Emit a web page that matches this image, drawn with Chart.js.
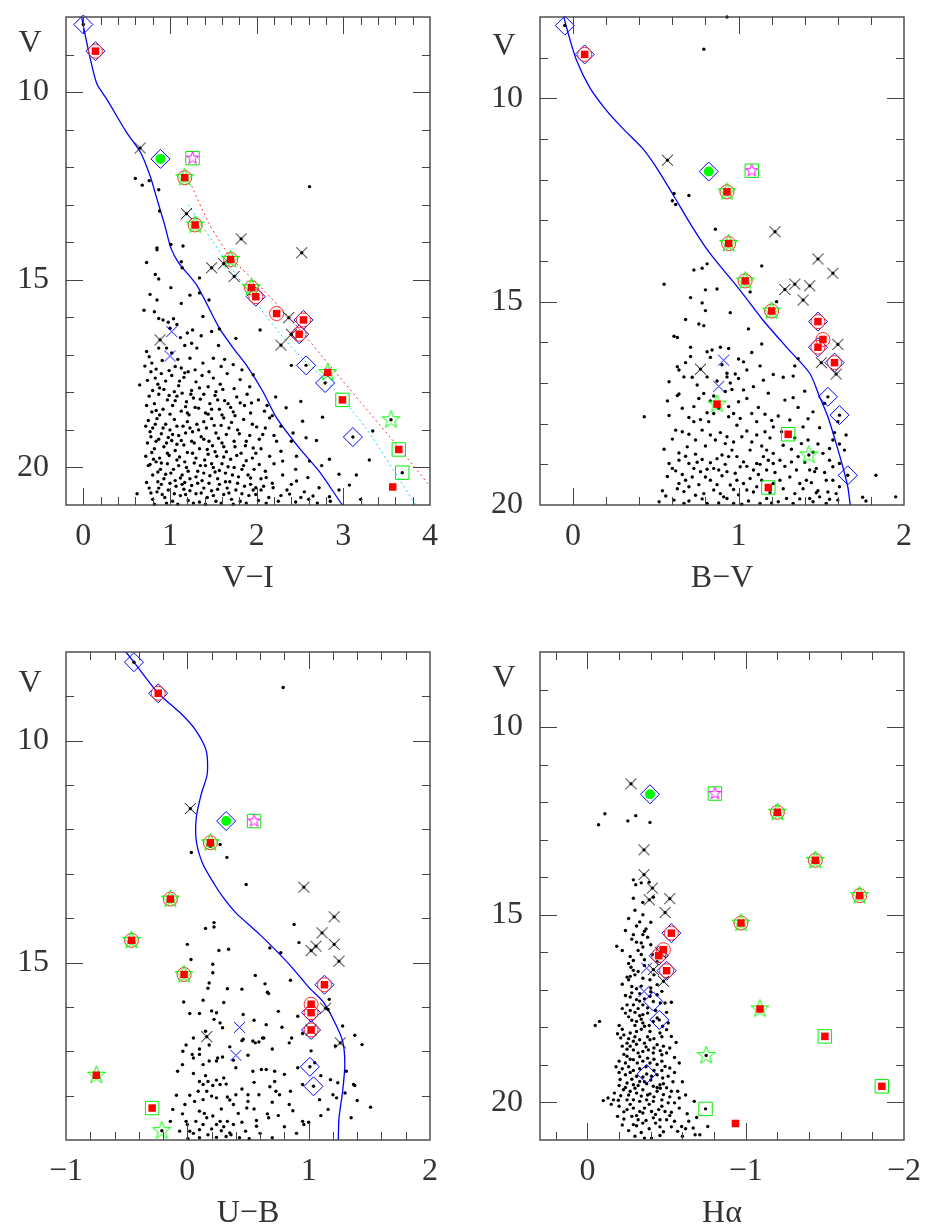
<!DOCTYPE html>
<html>
<head>
<meta charset="utf-8">
<script src="https://cdn.jsdelivr.net/npm/chart.js@4.4.1/dist/chart.umd.min.js"></script>
<style>
html, body { margin: 0; padding: 0; background: #fff; }
#wrap { position: relative; width: 938px; height: 1230px; overflow: hidden; }
canvas { position: absolute; }
</style>
</head>
<body>
<div id="wrap">
  <canvas id="cVI" width="469" height="640" style="left:0;top:-40px"></canvas>
  <canvas id="cBV" width="469" height="640" style="left:469px;top:-40px"></canvas>
  <canvas id="cUB" width="469" height="630" style="left:0;top:600px"></canvas>
  <canvas id="cHA" width="469" height="630" style="left:469px;top:600px"></canvas>
</div>
<script>
'use strict'

// ---------- V vs V-I ----------
const viIsochrone = [[-0.02,8.0],[0.04,8.69],[0.10,9.31],[0.16,9.80],[0.27,10.19],[0.50,11.08],[0.66,11.61],[0.77,12.23],[0.85,12.85],[0.94,13.55],[1.01,14.15],[1.1,14.55],[1.31,15.15],[1.57,16.29],[1.73,16.82],[1.88,17.27],[2.07,17.97],[2.23,18.68],[2.49,19.48],[2.72,20.10],[2.97,20.94],[2.99,21.0]];
const viRedDotted = [[1.25,12.5],[1.45,13.5],[1.7,14.4],[2.05,15.2],[2.45,16.2],[2.85,17.3],[3.25,18.4],[3.65,19.5],[4.0,20.5]];
const viCyanDotted = [[1.21,13.0],[1.5,14.0],[1.96,15.5],[2.38,16.74],[2.88,17.89],[3.26,18.95],[3.82,20.94],[3.84,21.0]];
const viDiamonds = [[0.0,8.2],[0.14,8.91],[0.89,11.78],[1.99,15.45],[2.54,16.07],[2.49,16.45],[2.57,17.28],[2.79,17.75],[3.11,19.19]];
const viRedSquares = [[0.14,8.91],[1.17,12.28],[1.29,13.54],[1.70,14.46],[1.94,15.21],[1.99,15.45],[2.23,15.90],[2.54,16.07],[2.49,16.45],[2.82,17.47],[2.99,18.20],[3.64,19.52],[3.57,20.52]];
const viRedCircles = [[0.14,8.91],[1.17,12.28],[1.29,13.54],[1.70,14.46],[1.94,15.21],[1.99,15.45],[2.23,15.90],[2.54,16.07],[2.49,16.45]];
const viGreenStars = [[1.17,12.28],[1.29,13.54],[1.70,14.46],[1.94,15.21],[2.82,17.47],[3.55,18.73]];
const viGreenSquares = [[1.26,11.76],[2.99,18.20],[3.64,19.52],[3.68,20.14]];
const viGreenDot = [[0.89,11.78]];
const viMagentaStar = [[1.26,11.76]];
const viCrosses = [[0.655,11.49],[1.19,13.24],[1.82,13.91],[2.52,14.28],[1.48,14.68],[1.62,14.57],[1.74,14.91],[2.37,16.01],[2.40,16.45],[2.28,16.74],[0.885,16.60]];
const viBlueCrosses = [[1.02,16.38],[1.0,17.03]];
const viDots = [[0.0,8.2],[2.57,17.28],[2.79,17.75],[3.11,19.19],[3.55,18.73],[3.68,20.14],
  [0.60,12.30],[0.68,12.48],[0.76,12.36],[0.87,12.60],[2.61,12.52],[0.88,13.17],[0.85,14.15],[1.01,14.06],[1.15,14.10],
  [0.73,14.54],[0.85,14.2],[0.83,14.86],[0.87,14.98],[1.01,15.21],[1.13,14.52],[1.14,14.68],[1.34,14.95],[1.45,15.54],[1.34,15.35],[1.23,15.41],[1.13,15.63],[0.77,15.39],[0.85,15.54],[0.70,15.81],[0.82,15.85],[0.87,16.03],[0.92,16.07],[0.98,16.13],[1.04,16.04],[1.0,16.29],[1.08,16.19],[1.12,16.54],[1.20,16.42],[1.26,16.34],[1.25,16.69],[1.17,16.75],[1.38,15.98],[1.36,16.49],[1.48,16.38],[1.56,16.75],[1.57,16.31],[1.76,16.56],[0.73,16.91],[0.79,17.22],[0.87,16.82],[0.96,16.82],[1.06,17.31],[1.13,17.35],[1.23,17.09],[1.31,16.82],[1.38,17.22],[1.50,17.09],[1.59,17.31],[1.73,17.26],[0.65,17.8],[2.04,16.34],[2.40,17.28],[2.51,18.24],[2.76,18.66],[2.53,18.77],[2.57,19.21],[2.69,19.28],[2.84,19.78],[2.95,20.18],[3.07,20.47],[3.3,19.8],[3.34,19.03],[1.94,18.28],[1.96,17.53],[2.09,18.5],[2.15,18.68],[2.34,18.41],[2.42,19.08],[2.40,19.3],[2.28,19.57],[2.46,19.7],[2.30,19.83],[2.61,19.83],[2.59,20.27],[2.46,20.36],[2.38,20.71],[2.51,20.8],[2.72,20.54],[2.65,20.76],[2.84,20.78],[2.19,20.54],[2.11,20.27],[2.03,19.92],[1.99,20.54],[2.23,19.3],[2.07,19.12],[1.96,19.48],
  [0.78,17.45],[0.83,17.62],[0.9,17.5],[0.95,17.7],[1.02,17.55],[1.1,17.82],[1.16,17.6],[1.21,17.45],[1.3,17.72],[1.37,17.55],[1.44,17.85],[1.5,17.62],[1.58,17.78],[1.66,17.5],[1.74,17.9],[1.81,17.66],[0.8,17.95],[0.88,17.88],[1.05,17.98],[1.25,17.95],
  [0.76,18.1],[0.82,18.3],[0.87,18.05],[0.92,18.45],[0.97,18.2],[1.03,18.35],[1.08,18.1],[1.13,18.5],[1.19,18.25],[1.24,18.05],[1.29,18.4],[1.35,18.18],[1.41,18.55],[1.46,18.3],[1.52,18.08],[1.57,18.45],[1.63,18.22],[1.7,18.4],[1.77,18.12],[1.86,18.35],[1.93,18.55],[2.02,18.2],[0.79,18.52],[1.0,18.58],[1.22,18.6],[1.6,18.6],
  [0.75,18.75],[0.8,18.95],[0.85,18.7],[0.9,19.1],[0.95,18.85],[1.0,19.0],[1.05,18.72],[1.1,19.15],[1.15,18.9],[1.2,18.78],[1.26,19.05],[1.31,18.85],[1.36,19.18],[1.42,18.95],[1.48,18.7],[1.53,19.08],[1.59,18.88],[1.65,19.12],[1.71,18.8],[1.78,19.0],[1.85,18.72],[1.92,19.15],[2.0,18.92],[0.78,19.18],[0.98,19.2],[1.62,18.68],
  [0.74,19.35],[0.79,19.6],[0.84,19.3],[0.88,19.75],[0.93,19.45],[0.97,19.62],[1.02,19.28],[1.06,19.55],[1.11,19.72],[1.16,19.4],[1.2,19.6],[1.25,19.3],[1.3,19.75],[1.34,19.5],[1.39,19.25],[1.44,19.65],[1.49,19.42],[1.54,19.7],[1.6,19.35],[1.65,19.58],[1.7,19.78],[1.75,19.45],[1.82,19.62],[1.88,19.3],[1.95,19.75],[2.05,19.5],[2.15,19.7],[0.82,19.5],[1.08,19.38],[1.4,19.8],
  [0.75,19.95],[0.8,20.2],[0.84,19.85],[0.89,20.05],[0.93,20.3],[0.97,19.9],[1.01,20.15],[1.06,20.35],[1.1,19.95],[1.14,20.2],[1.19,20.0],[1.23,20.3],[1.28,19.88],[1.32,20.1],[1.37,20.35],[1.41,19.95],[1.46,20.22],[1.5,20.0],[1.55,20.3],[1.6,19.9],[1.64,20.15],[1.69,20.38],[1.74,20.0],[1.79,20.25],[1.85,19.95],[1.9,20.2],[1.97,20.05],[2.05,20.3],[0.86,20.38],[1.17,20.4],[1.52,20.12],
  [0.76,20.55],[0.8,20.85],[0.85,20.65],[0.9,20.45],[0.94,20.8],[0.98,20.6],[1.03,20.9],[1.07,20.5],[1.12,20.75],[1.16,20.58],[1.21,20.88],[1.25,20.48],[1.3,20.7],[1.34,20.92],[1.39,20.55],[1.43,20.8],[1.48,20.62],[1.53,20.9],[1.57,20.45],[1.62,20.72],[1.66,20.55],[1.71,20.85],[1.76,20.6],[1.81,20.9],[1.86,20.5],[1.91,20.75],[1.96,20.6],[2.02,20.88],[2.08,20.5],[2.14,20.8],[2.25,20.9],[2.35,20.6],[2.45,20.92],[2.6,20.85],[2.7,20.95],[2.85,20.9],[0.62,20.7],
  [0.76,17.05],[0.84,17.38],[0.91,17.15],[0.99,17.42],[1.09,17.12],[1.17,17.48],[1.29,17.4],[1.45,17.45],[1.63,17.12],[1.83,17.4],[0.71,17.3],[1.02,16.95],
  [0.74,17.68],[0.86,17.78],[0.93,17.92],[0.99,18.08],[1.06,18.22],[1.14,18.02],[1.18,18.38],[1.27,18.15],[1.33,18.42],[1.39,18.05],[1.48,18.45],[1.55,18.2],[1.61,17.92],[1.67,18.3],[1.73,18.52],[1.81,18.28],[1.89,18.05],[2.12,18.35],[2.22,18.12],[0.73,18.35],[0.84,18.48],[1.11,17.7],[1.34,17.88],[1.53,17.98],[1.92,17.85],
  [0.72,18.9],[0.77,19.05],[0.83,18.85],[0.87,19.25],[0.92,18.95],[0.96,19.35],[1.03,19.12],[1.08,18.9],[1.13,19.28],[1.18,19.08],[1.23,18.95],[1.28,19.35],[1.33,19.0],[1.39,18.78],[1.45,19.3],[1.51,18.88],[1.56,19.22],[1.62,19.45],[1.68,18.95],[1.74,19.3],[1.8,19.1],[1.87,19.42],[1.95,18.85],[2.03,19.25],[2.1,18.95],[2.2,19.15],[2.28,18.9],[0.88,18.6],[1.2,18.55],[1.44,18.58],[1.75,18.62],[2.18,18.62],
  [0.72,19.7],[0.77,19.92],[0.81,19.78],[0.86,20.12],[0.9,19.88],[0.95,20.18],[0.99,19.68],[1.04,20.05],[1.08,19.8],[1.12,20.28],[1.17,19.85],[1.21,20.1],[1.26,19.62],[1.3,20.25],[1.35,19.95],[1.39,20.15],[1.43,19.52],[1.48,19.9],[1.52,19.58],[1.57,20.08],[1.62,19.72],[1.67,19.98],[1.72,20.2],[1.77,19.68],[1.83,20.05],[1.88,19.82],[1.93,20.28],[1.99,19.62],[2.1,20.1],[2.2,19.9],[2.3,20.2],[2.45,20.05],[2.75,19.95],[3.15,20.2],
  [0.73,20.4],[0.78,20.68],[0.82,20.98],[0.87,20.55],[0.91,20.72],[0.96,20.95],[1.0,20.42],[1.05,20.7],[1.09,20.98],[1.14,20.45],[1.18,20.72],[1.23,20.62],[1.27,20.95],[1.32,20.42],[1.36,20.68],[1.41,20.98],[1.45,20.42],[1.5,20.75],[1.55,20.58],[1.59,20.95],[1.64,20.38],[1.68,20.68],[1.73,20.98],[1.78,20.42],[1.83,20.7],[1.88,20.95],[1.93,20.45],[1.99,20.72],[2.05,20.6],[2.11,20.95],[2.18,20.42],[2.28,20.75],[2.4,20.45],[2.55,20.65],[2.95,20.6],[3.2,20.85]];

// ---------- V vs B-V ----------
const bvIsochrone = [[-0.056,8.0],[-0.03,8.4],[0.02,9.06],[0.10,9.73],[0.20,10.29],[0.30,10.74],[0.42,11.23],[0.50,11.68],[0.60,12.34],[0.72,13.16],[0.825,13.8],[1.007,14.71],[1.147,15.45],[1.288,16.11],[1.43,16.76],[1.49,17.34],[1.54,17.83],[1.59,18.49],[1.63,19.06],[1.66,19.55],[1.675,20.0]];
const bvDiamonds = [[-0.05,8.21],[0.07,8.92],[0.82,11.8],[1.48,15.49],[1.48,16.12],[1.58,16.5],[1.54,17.34],[1.61,17.79],[1.66,19.27]];
const bvRedSquares = [[0.07,8.92],[0.93,12.3],[0.94,13.57],[1.04,14.49],[1.20,15.23],[1.48,15.49],[1.51,15.93],[1.48,16.12],[1.58,16.5],[0.87,17.52],[1.30,18.26],[1.18,19.57]];
const bvRedCircles = [[0.07,8.92],[0.93,12.3],[0.94,13.57],[1.04,14.49],[1.20,15.23],[1.48,15.49],[1.51,15.93],[1.48,16.12],[1.58,16.5]];
const bvGreenStars = [[0.93,12.3],[0.94,13.57],[1.04,14.49],[1.20,15.23],[0.87,17.52],[1.425,18.77]];
const bvGreenSquares = [[1.08,11.78],[1.30,18.26],[1.18,19.57]];
const bvGreenDot = [[0.82,11.8]];
const bvMagentaStar = [[1.08,11.78]];
const bvCrosses = [[0.57,11.52],[1.22,13.28],[1.48,13.95],[1.57,14.30],[1.28,14.70],[1.34,14.57],[1.43,14.61],[1.39,14.96],[1.60,16.05],[1.50,16.5],[1.59,16.78],[0.77,16.66]];
const bvBlueCrosses = [[0.91,16.44],[0.88,17.08]];
const bvDots = [[-0.05,8.21],[0.93,8.0],[0.79,8.79],[0.61,12.34],[0.60,12.52],[0.62,12.61],[0.70,12.39],[0.86,13.22],[1.54,17.34],[1.61,17.79],[1.66,19.27],[1.425,18.77],
  [0.81,14.07],[0.78,14.18],[0.73,14.22],[0.55,14.57],[1.14,14.12],[0.80,14.71],[0.87,14.69],[0.71,14.9],[0.78,15.03],[0.80,15.22],[0.95,15.27],[0.68,15.44],[0.76,15.55],[0.79,15.59],[1.06,15.67],[0.61,15.85],[0.63,15.88],[0.71,16.12],[1.14,16.04],[1.23,15.0],[1.07,14.76],
  [0.81,16.23],[0.84,16.19],[0.89,16.12],[0.94,16.15],[0.71,16.35],[0.83,16.37],[0.63,16.6],[0.64,16.68],[0.58,16.97],[0.67,16.85],[0.72,16.86],[0.75,17.05],[0.64,17.27],[0.63,17.31],[0.57,17.44],[1.0,16.41],[1.03,16.48],[1.05,16.68],[0.98,16.78],[1.0,16.89],[0.93,16.76],[0.93,16.85],[0.87,16.95],[0.81,16.85],[1.13,16.58],[1.21,16.79],[1.27,16.86],[1.33,16.83],[1.34,16.58],[1.36,16.4],[1.15,16.93],[1.09,17.09],[1.03,17.17],[0.96,17.16],[0.92,17.21],[1.0,17.46],[1.05,17.38],[0.79,17.26],[0.76,17.38],[0.83,17.44],[0.73,17.58],[0.81,17.73],[0.77,17.9],[0.73,17.95],[0.82,17.95],[0.85,17.75],[0.94,17.58],[0.97,17.75],[1.01,17.87],[0.99,18.04],[0.94,17.83],[1.08,17.75],[1.11,17.95],[1.16,17.77],[1.24,17.81],[1.28,17.42],[1.33,17.36],[1.31,17.91],[1.49,18.1],[1.45,17.71],[1.39,18.08],[1.21,18.08],[1.16,18.2],[1.11,18.28],[1.08,18.45],[1.02,18.32],[0.93,18.32],[0.92,18.49],[0.86,18.4],[0.83,18.28],[0.78,18.16],[0.70,18.26],[0.66,18.2],[0.62,18.16],
  [0.55,18.63],[0.64,18.72],[0.69,18.57],[0.74,18.75],[0.78,18.88],[0.83,18.96],[0.87,18.86],[0.90,18.77],[0.94,18.81],[0.96,18.65],[0.99,18.81],[1.03,18.94],[1.07,18.65],[1.11,18.98],[1.15,18.81],[1.21,18.98],[1.27,18.53],[1.32,18.63],[1.38,18.49],[1.43,19.14],[1.47,19.1],[1.51,18.73],[1.55,18.61],[1.57,18.4],[1.61,18.5],[1.65,18.28],[1.64,18.65],[1.55,18.9],[1.57,19.06],[1.61,18.98],[1.83,19.27],[1.95,19.8],[1.77,19.9],[1.75,19.81],[1.60,19.88],[1.55,19.86],[1.49,19.8],[1.45,19.92],[1.61,19.55],[1.57,19.39],[1.53,19.39],[1.46,19.18],[1.41,19.39],[1.37,19.47],[1.35,19.14],[1.31,19.31],[1.25,19.39],[1.21,19.47],[1.24,19.92],[1.29,19.84],[1.14,19.39],[1.11,19.55],[1.07,19.35],[1.05,19.63],[1.03,19.47],[0.99,19.39],[0.95,19.51],[0.93,19.84],[0.91,19.8],[0.89,19.72],[0.85,19.63],[0.83,19.39],[0.80,19.31],[0.77,19.18],[0.72,19.31],[0.68,19.39],[0.67,19.67],[0.64,19.47],[0.61,19.88],[0.52,19.92],[0.54,19.65],[0.67,19.96],[0.74,19.76],[0.81,19.96],[0.97,19.96],[1.02,19.98],[1.13,19.96],[1.17,19.84],[1.33,19.96],[1.43,19.84],[1.53,19.96],[1.59,19.72],[1.54,19.68],[1.25,18.9],[1.21,18.73],[1.17,18.65],[1.32,18.94],[1.36,18.81],[1.09,19.14],[1.17,19.14],[1.01,19.06],[0.93,19.18],[0.88,19.14],[0.85,19.1],[0.70,18.98],[0.73,19.1],[0.68,18.8],[0.64,18.9],[0.62,19.16],[0.58,18.98],[0.43,17.83],
  [0.58,17.8],[0.66,17.62],[0.7,17.85],[0.88,17.62],[1.12,17.6],[1.2,17.92],[1.36,17.6],[1.42,17.88],[1.52,17.5],[1.6,17.95],[0.6,18.38],[0.74,18.4],[0.8,18.55],[0.89,18.22],[0.97,18.45],[1.05,18.18],[1.14,18.55],[1.19,18.35],[1.26,18.2],[1.34,18.35],[1.42,18.4],[1.48,18.5],[1.58,18.22],[0.57,19.3],[0.63,19.6],[0.7,19.55],[0.76,19.5],[0.79,19.72],[0.87,19.5],[0.9,19.28],[0.97,19.62],[1.0,19.75],[1.09,19.68],[1.12,19.25],[1.19,19.7],[1.22,19.2],[1.27,19.6],[1.34,19.72],[1.39,19.6],[1.44,19.45],[1.48,19.65],[1.52,19.2],[0.6,19.1],[0.66,19.25],[0.75,18.95],[0.81,19.12],[0.92,19.0],[0.98,19.22],[1.05,19.05],[1.13,19.0],[1.18,18.9],[1.28,19.05],[1.4,18.95],[1.45,18.7],[0.56,19.78],[0.7,19.9],[0.78,19.85],[0.88,19.95],[1.06,19.9],[1.2,19.95],[1.37,19.85],[1.47,19.7],[0.95,17.0],[0.85,17.32],[1.18,17.25],[1.4,17.2],[0.68,16.5],[0.9,16.55],[1.08,16.25]];

// ---------- V vs U-B ----------
const ubIsochrone = [[-0.506,8.0],[-0.44,8.23],[-0.24,8.93],[-0.063,9.36],[0.068,9.76],[0.156,10.23],[0.164,10.75],[0.115,11.2],[0.074,11.73],[0.074,12.26],[0.128,12.78],[0.224,13.24],[0.30,13.55],[0.40,13.88],[0.594,14.36],[0.84,15.04],[1.005,15.57],[1.115,15.87],[1.197,16.25],[1.28,16.77],[1.298,17.3],[1.28,17.9],[1.25,18.5],[1.244,19.0]];
const ubDiamonds = [[-0.44,8.23],[-0.24,8.93],[0.32,11.81],[1.13,15.5],[1.02,16.13],[1.02,16.52],[1.01,17.35],[1.04,17.79]];
const ubRedSquares = [[-0.24,8.93],[0.19,12.30],[-0.14,13.57],[-0.46,14.5],[-0.027,15.27],[1.13,15.5],[1.02,15.94],[1.02,16.13],[1.02,16.52],[-0.75,17.54],[-0.29,18.28]];
const ubRedCircles = [[-0.24,8.93],[0.19,12.30],[-0.14,13.57],[-0.46,14.5],[-0.027,15.27],[1.13,15.5],[1.02,15.94],[1.02,16.13],[1.02,16.52]];
const ubGreenStars = [[0.19,12.30],[-0.14,13.57],[-0.46,14.5],[-0.027,15.27],[-0.75,17.54],[-0.21,18.79]];
const ubGreenSquares = [[0.55,11.81],[-0.29,18.28]];
const ubGreenDot = [[0.32,11.81]];
const ubMagentaStar = [[0.55,11.81]];
const ubCrosses = [[0.025,11.53],[0.96,13.30],[1.21,13.97],[1.11,14.33],[1.06,14.63],[1.02,14.73],[1.21,14.59],[1.25,14.97],[1.14,16.03],[1.02,16.52],[0.16,16.67],[1.26,16.81]];
const ubBlueCrosses = [[0.43,16.46],[0.40,17.09]];
const ubDots = [[-0.44,8.23],[1.01,17.35],[1.04,17.79],[-0.21,18.79],[0.79,8.80],[0.19,12.38],[0.27,12.34],[0.033,12.52],[0.326,12.63],[0.485,13.24],
  [0.88,14.14],[0.92,14.55],[0.77,14.78],[0.68,14.67],[0.15,14.23],[0.22,14.1],[0.22,14.2],[0.0,14.59],[0.03,14.93],[0.26,14.73],[0.34,14.7],[0.21,15.04],[0.21,15.23],[0.18,15.46],[0.17,15.58],[0.33,15.59],[-0.03,15.89],[0.13,15.85],[0.02,16.15],[0.10,16.15],[0.20,16.09],[0.24,16.13],[0.27,16.36],[0.29,16.47],[0.22,16.28],[0.46,16.17],[0.56,15.29],[0.64,15.48],[0.66,15.67],[0.67,15.7],[0.85,15.4],[0.78,16.46],[0.65,16.4],[0.59,16.79],[0.62,16.7],[0.56,16.81],[0.46,16.73],[0.05,16.7],[-0.01,16.86],[0.18,16.86],[-0.037,17.0],[0.04,17.07],[0.10,17.07],[0.05,17.15],[0.13,17.3],[0.18,17.22],[0.24,17.22],[0.29,17.13],[0.25,17.15],[-0.04,17.3],[-0.08,17.45],
  [0.10,17.68],[0.13,17.75],[0.17,17.68],[0.21,17.77],[0.24,17.65],[0.27,17.75],[0.32,17.74],[0.09,17.9],[0.16,17.9],[0.02,17.99],[-0.09,17.99],[0.06,18.13],[0.13,18.09],[0.20,18.01],[0.24,18.05],[0.33,18.03],[0.40,17.98],[0.50,17.98],[0.50,18.13],[0.59,17.98],[0.61,17.41],[0.65,17.41],[0.72,17.45],[0.80,17.52],[0.72,17.68],[0.73,17.9],[0.76,17.98],[0.40,17.37],[0.54,17.45],[0.50,17.09],[0.45,16.76],[0.54,16.77],[0.63,16.7],[0.84,16.81],[0.86,16.7],[0.91,16.21],[1.17,15.83],[1.16,16.06],[1.28,16.43],[1.38,16.64],[1.44,16.85],[1.22,16.88],[1.02,16.99],[1.05,17.26],[0.91,17.37],[1.09,18.09],[1.16,18.31],[1.18,17.64],[1.24,17.71],[1.31,17.45],[1.2,17.98],[1.30,17.94],[1.38,17.77],[1.40,18.11],[1.51,18.26],
  [0.87,18.34],[0.95,18.58],[0.96,18.65],[0.84,18.2],[0.66,18.41],[0.67,18.5],[0.49,18.28],[0.57,18.56],[0.57,18.69],[0.48,18.8],[0.43,18.95],[0.38,18.2],[0.38,18.65],[0.33,18.58],[0.35,18.84],[0.32,18.92],[0.36,18.88],[0.28,18.79],[0.24,18.65],[0.27,18.58],[0.21,18.46],[0.16,18.5],[0.13,18.65],[0.10,18.77],[0.07,18.58],[-0.01,18.58],[-0.04,18.41],[-0.12,18.31],[-0.063,18.8],[0.02,18.8],[0.10,18.95],[0.17,18.88],[0.24,18.94],[0.005,18.97],[0.51,18.97],[-0.14,18.58],[1.37,17.75],[1.23,18.05],
  [0.05,17.5],[0.15,17.55],[0.3,17.6],[0.45,17.85],[0.55,17.7],[0.68,17.8],[0.85,17.9],[0.95,17.75],[1.1,17.55],[-0.02,18.2],[0.1,18.35],[0.28,18.3],[0.42,18.4],[0.55,18.3],[0.75,18.45],[0.8,18.7],[0.9,18.85],[1.0,18.6],[1.1,18.45],[1.35,18.5],[0.05,18.85],[0.2,18.75],[0.3,18.7],[0.45,18.6],[0.6,18.85],[0.7,18.95],[0.0,18.65],[0.14,18.4],[0.35,18.1],[0.7,18.15],[0.15,16.55],[0.35,16.9],[0.7,16.95],[0.95,16.6],[0.3,15.9],[0.45,15.6],[0.55,16.3],[0.75,16.1],[0.1,16.95],[0.38,17.2]];

// ---------- V vs H-alpha ----------
const haDiamonds = [[-0.395,11.79],[-0.53,15.49],[-0.45,16.09],[-0.50,16.49],[-0.416,17.31],[-0.454,17.8],[-0.374,19.24]];
const haRedSquares = [[-1.20,12.27],[-1.44,13.55],[-1.72,14.49],[-0.97,15.22],[-0.53,15.49],[-0.48,15.93],[-0.45,16.09],[-0.50,16.49],[-1.09,17.51],[-1.50,18.24],[-1.86,19.57],[-0.935,20.56]];
const haRedCircles = [[-1.20,12.27],[-1.44,13.55],[-1.72,14.49],[-0.97,15.22],[-0.53,15.49],[-0.48,15.93],[-0.45,16.09],[-0.50,16.49]];
const haGreenStars = [[-1.20,12.27],[-1.44,13.55],[-1.72,14.49],[-0.97,15.22],[-1.09,17.51],[-0.75,18.75]];
const haGreenSquares = [[-0.805,11.77],[-1.50,18.24],[-1.86,19.57],[-0.746,20.17]];
const haGreenDot = [[-0.395,11.79]];
const haMagentaStar = [[-0.805,11.77]];
const haCrosses = [[-0.275,11.51],[-0.357,13.27],[-0.357,13.93],[-0.41,14.29],[-0.52,14.57],[-0.39,14.6],[-0.49,14.94],[-0.46,16.0],[-0.416,16.46],[-0.48,16.77]];
const haBlueCrosses = [[-0.374,16.42],[-0.357,17.04]];
const haDots = [[-0.416,17.31],[-0.454,17.8],[-0.374,19.24],[-0.75,18.75],[-0.746,20.17],
  [-0.11,12.31],[-0.305,12.36],[-0.07,12.6],[-0.255,12.5],[-0.395,12.54],[-0.29,14.07],[-0.305,14.2],[-0.34,14.15],[-0.39,14.13],[-0.29,14.56],[-0.416,14.53],
  [-0.35,14.67],[-0.30,14.88],[-0.35,15.0],[-0.33,15.19],[-0.24,15.42],[-0.29,15.53],[-0.35,15.53],[-0.36,15.44],[-0.37,15.38],[-0.185,15.84],[-0.31,15.73],[-0.34,15.75],[-0.35,15.86],[-0.27,16.11],[-0.29,16.22],[-0.34,16.06],[-0.36,16.2],[-0.41,16.06],[-0.275,16.4],[-0.29,16.48],[-0.32,16.51],[-0.25,16.66],[-0.27,16.64],[-0.26,16.73],[-0.35,16.69],[-0.395,16.73],[-0.44,16.86],[-0.53,17.33],[-0.47,17.04],[-0.28,16.91],[-0.31,16.97],[-0.33,17.1],[-0.28,17.08],[-0.27,17.19],[-0.31,17.26],[-0.36,17.24],[-0.395,17.17],[-0.44,17.13],[-0.25,17.4],[-0.29,17.4],[-0.35,17.4],[-0.38,17.48],[-0.46,17.35],[-0.49,17.35],
  [-0.24,17.62],[-0.30,17.6],[-0.33,17.69],[-0.35,17.66],[-0.28,17.81],[-0.31,17.84],[-0.35,17.88],[-0.416,17.84],[-0.475,17.97],[-0.50,18.06],[-0.51,17.88],[-0.53,18.24],[-0.458,18.15],[-0.395,18.11],[-0.36,17.97],[-0.31,18.11],[-0.27,18.15],[-0.23,18.2],[-0.19,18.17],[-0.21,18.28],[-0.25,18.42],[-0.29,18.37],[-0.33,18.33],[-0.36,18.42],[-0.395,18.33],[-0.44,18.46],[-0.48,18.5],[-0.52,18.55],[-0.25,18.58],[-0.29,18.6],[-0.32,18.68],[-0.35,18.64],[-0.385,18.6],[-0.416,18.68],[-0.47,18.73],[-0.50,18.68],[-0.25,18.77],[-0.29,18.86],[-0.315,18.95],[-0.35,18.9],[-0.395,18.95],[-0.44,18.99],[-0.49,19.04],[-0.52,19.08],[-0.24,18.95],
  [-0.20,19.2],[-0.24,19.26],[-0.27,19.2],[-0.31,19.3],[-0.35,19.32],[-0.405,19.3],[-0.44,19.26],[-0.475,19.35],[-0.51,19.3],[-0.206,19.39],[-0.25,19.48],[-0.29,19.53],[-0.33,19.44],[-0.374,19.5],[-0.416,19.57],[-0.458,19.53],[-0.50,19.61],[-0.53,19.7],[-0.57,19.7],[-0.227,19.66],[-0.27,19.7],[-0.31,19.75],[-0.35,19.66],[-0.395,19.77],[-0.44,19.7],[-0.48,19.79],[-0.13,19.88],[-0.164,19.93],[-0.195,19.94],[-0.25,19.93],[-0.29,19.93],[-0.33,19.97],[-0.374,19.93],[-0.416,19.97],[-0.47,19.93],[-0.51,20.01],[-0.55,20.01],[-0.675,19.97],
  [-0.25,20.19],[-0.29,20.15],[-0.33,20.24],[-0.36,20.15],[-0.405,20.24],[-0.45,20.19],[-0.49,20.24],[-0.53,20.26],[-0.19,20.37],[-0.23,20.44],[-0.28,20.37],[-0.32,20.46],[-0.37,20.48],[-0.416,20.41],[-0.458,20.46],[-0.50,20.46],[-0.55,20.5],[-0.595,20.64],[-0.62,20.7],[-0.668,20.68],[-0.71,20.86],[-0.68,20.86],[-0.76,20.64],[-0.29,20.59],[-0.35,20.55],[-0.458,20.65],[-0.405,20.95],[-0.458,20.88],[-0.57,20.77],[-0.64,20.5],[-0.049,17.95],[-0.076,17.84],
  [-0.26,15.1],[-0.31,15.3],[-0.4,15.2],[-0.28,15.65],[-0.38,15.6],[-0.22,15.95],[-0.32,15.95],[-0.4,15.8],[-0.26,16.3],[-0.36,16.35],[-0.44,16.25],[-0.3,16.6],[-0.42,16.6],
  [-0.22,16.85],[-0.34,16.9],[-0.4,16.95],[-0.24,17.15],[-0.33,17.3],[-0.4,17.05],[-0.22,17.5],[-0.27,17.55],[-0.32,17.5],[-0.38,17.62],[-0.43,17.55],[-0.26,17.72],[-0.3,17.95],[-0.34,17.78],[-0.39,17.95],[-0.44,17.75],[-0.5,17.6],[-0.2,17.95],
  [-0.22,18.05],[-0.26,18.3],[-0.3,18.25],[-0.34,18.05],[-0.38,18.25],[-0.42,18.3],[-0.47,18.25],[-0.56,18.4],[-0.22,18.5],[-0.27,18.5],[-0.31,18.45],[-0.37,18.52],[-0.42,18.55],[-0.46,18.62],[-0.55,18.8],[-0.23,18.72],[-0.27,18.85],[-0.33,18.78],[-0.38,18.82],[-0.42,18.85],[-0.47,18.9],[-0.58,18.95],[-0.2,18.9],
  [-0.18,19.05],[-0.22,19.1],[-0.26,19.05],[-0.29,19.15],[-0.33,19.1],[-0.37,19.05],[-0.42,19.15],[-0.47,19.15],[-0.55,19.2],[-0.6,19.45],[-0.2,19.55],[-0.24,19.6],[-0.28,19.38],[-0.32,19.55],[-0.36,19.45],[-0.4,19.4],[-0.44,19.6],[-0.48,19.5],[-0.54,19.45],[-0.62,19.8],[-0.17,19.75],[-0.21,19.82],[-0.26,19.8],[-0.3,19.62],[-0.34,19.83],[-0.38,19.8],[-0.42,19.85],[-0.46,19.62],[-0.52,19.85],[-0.58,19.88],[-0.1,19.95],
  [-0.15,20.05],[-0.2,20.1],[-0.23,20.25],[-0.27,20.05],[-0.31,20.35],[-0.35,20.28],[-0.39,20.05],[-0.43,20.32],[-0.47,20.1],[-0.52,20.35],[-0.58,20.15],[-0.63,20.3],[-0.69,20.4],[-0.22,20.6],[-0.26,20.75],[-0.31,20.62],[-0.34,20.8],[-0.39,20.7],[-0.43,20.55],[-0.48,20.78],[-0.53,20.65],[-0.6,20.9],[-0.36,20.95],[-0.3,20.9]];

// ---------- tick positions ----------
const xMinorStep = 0.2;
const yMinorStep = 1;
const yLabelEvery = 5;

// ---------- marker images ----------
function starImage(R, color) {
  const s = Math.ceil(2 * R + 4), c = document.createElement('canvas');
  c.width = c.height = s;
  const g = c.getContext('2d'), m = s / 2, r = R * 0.4;
  g.beginPath();
  for (let i = 0; i < 10; i++) {
    const a = -Math.PI / 2 + i * Math.PI / 5, rr = i % 2 ? r : R;
    g.lineTo(m + rr * Math.cos(a), m + rr * Math.sin(a));
  }
  g.closePath();
  g.strokeStyle = color;
  g.lineWidth = 1;
  g.stroke();
  return c;
}

function crossImage(h, color, dot) {
  const s = Math.ceil(2 * h + 4), c = document.createElement('canvas');
  c.width = c.height = s;
  const g = c.getContext('2d'), m = s / 2;
  g.beginPath();
  g.moveTo(m - h, m - h); g.lineTo(m + h, m + h);
  g.moveTo(m + h, m - h); g.lineTo(m - h, m + h);
  g.strokeStyle = color;
  g.lineWidth = 1;
  g.stroke();
  if (dot) {
    g.beginPath();
    g.arc(m, m, 1.7, 0, Math.PI * 2);
    g.fillStyle = color;
    g.fill();
  }
  return c;
}

const greenStarImg = starImage(9.5, '#00ff00');
const magentaStarImg = starImage(6.5, '#ff00ff');
const blackCrossImg = crossImage(5.5, '#000000', true);
const blueCrossImg = crossImage(5.5, '#0000ff', false);

// ---------- helpers ----------
const FONT = 'Liberation Serif';
const fmt = v => (v < 0 ? '\u2212' + Math.abs(v) : String(v));
const isInt = v => Math.abs(v - Math.round(v)) < 1e-6;

function pts(arr) {
  return arr.map(p => ({ x: p[0], y: p[1] }));
}

function markers(arr, style, radius, fill, stroke, order) {
  return {
    type: 'scatter', data: pts(arr), order: order, clip: false,
    pointStyle: style, pointRadius: radius,
    pointBackgroundColor: fill, pointBorderColor: stroke,
    pointBorderWidth: stroke === 'transparent' ? 0 : 1
  };
}

function curve(arr, color, dash, order) {
  return {
    type: 'scatter', data: pts(arr), order: order, showLine: true,
    pointRadius: 0, borderColor: color, borderWidth: dash ? 1 : 1.3,
    borderDash: dash || [], tension: 0.25, fill: false
  };
}

const frameTicks = {
  id: 'frameTicks',
  afterDraw(chart) {
    const { ctx, chartArea: a, scales: { x, y } } = chart;
    ctx.save();
    ctx.strokeStyle = '#444';
    ctx.lineWidth = 1;
    ctx.beginPath();
    x.ticks.forEach(t => {
      if (Math.abs(t.value - x.min) < 1e-6 || Math.abs(t.value - x.max) < 1e-6) return;
      const px = Math.round(x.getPixelForValue(t.value)) + 0.5;
      const len = isInt(t.value) ? 17 : 8;
      ctx.moveTo(px, a.bottom); ctx.lineTo(px, a.bottom - len);
      ctx.moveTo(px, a.top); ctx.lineTo(px, a.top + len);
    });
    y.ticks.forEach(t => {
      if (Math.abs(t.value - y.min) < 1e-6 || Math.abs(t.value - y.max) < 1e-6) return;
      const py = Math.round(y.getPixelForValue(t.value)) + 0.5;
      const len = isInt(t.value / yLabelEvery) ? 17 : 8;
      ctx.moveTo(a.left, py); ctx.lineTo(a.left + len, py);
      ctx.moveTo(a.right, py); ctx.lineTo(a.right - len, py);
    });
    ctx.stroke();
    ctx.lineWidth = 1.4;
    ctx.strokeRect(a.left, a.top, a.right - a.left, a.bottom - a.top);
    ctx.fillStyle = '#333';
    ctx.font = '32px "' + FONT + '"';
    ctx.textAlign = 'center';
    ctx.textBaseline = 'middle';
    ctx.fillText('V', a.left - 36, y.getPixelForValue(8.72));
    ctx.restore();
  }
};

function makePanel(id, p, d) {
  const datasets = [
    markers(d.redSquares, 'rect', 5.3, '#ff0000', 'transparent', 0),
    markers(d.greenDot, 'circle', 5, '#00ff00', 'transparent', 1),
    markers(d.magentaStar, magentaStarImg, 6, 'transparent', 'transparent', 1),
    markers(d.crosses, blackCrossImg, 6, 'transparent', 'transparent', 2),
    markers(d.blueCrosses, blueCrossImg, 6, 'transparent', 'transparent', 2),
    markers(d.greenStars, greenStarImg, 6, 'transparent', 'transparent', 3),
    markers(d.redCircles, 'circle', 7, 'transparent', '#ff2a2a', 4),
    markers(d.greenSquares, 'rect', 9.5, 'transparent', '#00ee00', 5),
    markers(d.diamonds, 'rectRot', 9.5, 'transparent', '#0000ff', 6),
    markers(d.dots, 'circle', 1.7, '#000000', 'transparent', 7)
  ];
  d.lines.forEach(l => datasets.push(curve(l.data, l.color, l.dash, 8)));

  new Chart(document.getElementById(id), {
    data: { datasets },
    plugins: [frameTicks],
    options: {
      responsive: false,
      animation: false,
      devicePixelRatio: 1,
      events: [],
      layout: { padding: p.pad },
      plugins: { legend: { display: false }, tooltip: { enabled: false } },
      scales: {
        x: {
          type: 'linear', min: p.xMin, max: p.xMax, reverse: !!p.reverseX,
          grid: { display: false, drawTicks: false }, border: { display: false },
          afterBuildTicks(s) {
            const t = [];
            for (let i = Math.ceil(s.min / xMinorStep - 1e-6); i <= Math.floor(s.max / xMinorStep + 1e-6); i++) {
              t.push({ value: Math.round(i * xMinorStep * 10) / 10 });
            }
            s.ticks = t;
          },
          ticks: {
            autoSkip: false, maxRotation: 0, padding: 16, color: '#333',
            font: { family: FONT, size: 32, lineHeight: 1 },
            callback: v => (isInt(v) ? fmt(Math.round(v)) : '')
          },
          title: {
            display: true, text: p.title, color: '#333',
            font: { family: FONT, size: 32, lineHeight: 1 },
            padding: { top: 0, bottom: p.titlePad }
          },
          afterFit(s) { s.height = p.xH; }
        },
        y: {
          type: 'linear', min: 8, max: p.yMax, reverse: true,
          grid: { display: false, drawTicks: false }, border: { display: false },
          afterBuildTicks(s) {
            const t = [];
            for (let v = Math.ceil(s.min); v <= Math.floor(s.max); v += yMinorStep) t.push({ value: v });
            s.ticks = t;
          },
          ticks: {
            autoSkip: false, padding: 17, color: '#333',
            font: { family: FONT, size: 32, lineHeight: 1 },
            callback: v => (isInt(v / yLabelEvery) ? fmt(Math.round(v)) : '')
          },
          afterFit(s) { s.width = 60; }
        }
      }
    }
  });
}

makePanel('cVI',
  { xMin: -0.2, xMax: 4, yMax: 21, title: 'V\u2212I', pad: { left: 6, top: 57, right: 39, bottom: 0 }, xH: 95, titlePad: 5 },
  { redSquares: viRedSquares, greenDot: viGreenDot, magentaStar: viMagentaStar, crosses: viCrosses, blueCrosses: viBlueCrosses,
    greenStars: viGreenStars, redCircles: viRedCircles, greenSquares: viGreenSquares, diamonds: viDiamonds, dots: viDots,
    lines: [{ data: viIsochrone, color: '#0000ff' }, { data: viRedDotted, color: '#ff3333', dash: [2, 3] }, { data: viCyanDotted, color: '#00e0f0', dash: [2, 3] }] });

makePanel('cBV',
  { xMin: -0.2, xMax: 2, yMax: 20, title: 'B\u2212V', pad: { left: 11, top: 57, right: 34, bottom: 0 }, xH: 95, titlePad: 5 },
  { redSquares: bvRedSquares, greenDot: bvGreenDot, magentaStar: bvMagentaStar, crosses: bvCrosses, blueCrosses: bvBlueCrosses,
    greenStars: bvGreenStars, redCircles: bvRedCircles, greenSquares: bvGreenSquares, diamonds: bvDiamonds, dots: bvDots,
    lines: [{ data: bvIsochrone, color: '#0000ff' }] });

makePanel('cUB',
  { xMin: -1, xMax: 2, yMax: 19, title: 'U\u2212B', pad: { left: 6, top: 52, right: 39, bottom: 0 }, xH: 90, titlePad: 0 },
  { redSquares: ubRedSquares, greenDot: ubGreenDot, magentaStar: ubMagentaStar, crosses: ubCrosses, blueCrosses: ubBlueCrosses,
    greenStars: ubGreenStars, redCircles: ubRedCircles, greenSquares: ubGreenSquares, diamonds: ubDiamonds, dots: ubDots,
    lines: [{ data: ubIsochrone, color: '#0000ff' }] });

makePanel('cHA',
  { xMin: -2, xMax: 0.3, reverseX: true, yMax: 21, title: 'H\u03b1', pad: { left: 11, top: 52, right: 34, bottom: 0 }, xH: 90, titlePad: 0 },
  { redSquares: haRedSquares, greenDot: haGreenDot, magentaStar: haMagentaStar, crosses: haCrosses, blueCrosses: haBlueCrosses,
    greenStars: haGreenStars, redCircles: haRedCircles, greenSquares: haGreenSquares, diamonds: haDiamonds, dots: haDots,
    lines: [] });
</script>
</body>
</html>
